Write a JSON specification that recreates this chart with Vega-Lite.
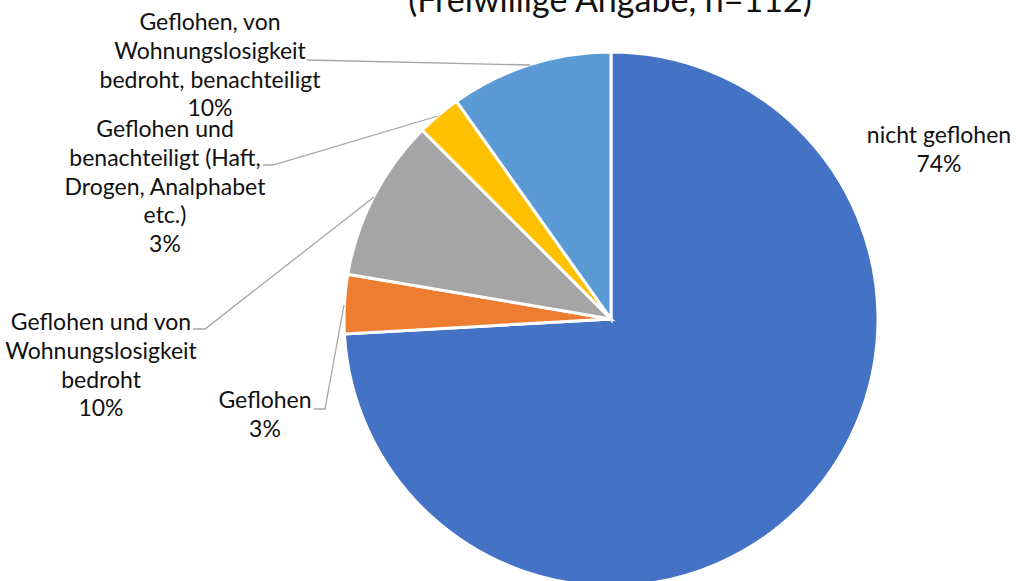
{
  "$schema": "https://vega.github.io/schema/vega-lite/v6.json",
  "width": 1016,
  "height": 581,
  "autosize": {"type": "none"},
  "padding": 0,
  "background": "white",
  "config": {"view": {"stroke": null}},
  "datasets": {
    "slices": [
      {"Kategorie": "nicht geflohen", "Anzahl": 83, "Reihenfolge": 1},
      {"Kategorie": "Geflohen", "Anzahl": 4, "Reihenfolge": 2},
      {"Kategorie": "Geflohen und von Wohnungslosigkeit bedroht", "Anzahl": 11, "Reihenfolge": 3},
      {"Kategorie": "Geflohen und benachteiligt (Haft, Drogen, Analphabet etc.)", "Anzahl": 3, "Reihenfolge": 4},
      {"Kategorie": "Geflohen, von Wohnungslosigkeit bedroht, benachteiligt", "Anzahl": 11, "Reihenfolge": 5}
    ],
    "labels": [
      {"Kategorie": "nicht geflohen", "Text": "nicht geflohen\n74%", "lx": 939, "ly": 143},
      {"Kategorie": "Geflohen", "Text": "Geflohen\n3%", "lx": 265, "ly": 408},
      {"Kategorie": "Geflohen und von Wohnungslosigkeit bedroht", "Text": "Geflohen und von\nWohnungslosigkeit\nbedroht\n10%", "lx": 101, "ly": 330},
      {"Kategorie": "Geflohen und benachteiligt (Haft, Drogen, Analphabet etc.)", "Text": "Geflohen und\nbenachteiligt (Haft,\nDrogen, Analphabet\netc.)\n3%", "lx": 165, "ly": 137},
      {"Kategorie": "Geflohen, von Wohnungslosigkeit bedroht, benachteiligt", "Text": "Geflohen, von\nWohnungslosigkeit\nbedroht, benachteiligt\n10%", "lx": 210, "ly": 30}
    ],
    "leaders": [
      {"Kategorie": "Geflohen", "Punkt": 1, "lx": 314, "ly": 409},
      {"Kategorie": "Geflohen", "Punkt": 2, "lx": 325, "ly": 409},
      {"Kategorie": "Geflohen", "Punkt": 3, "lx": 344, "ly": 305},
      {"Kategorie": "Geflohen und von Wohnungslosigkeit bedroht", "Punkt": 1, "lx": 193, "ly": 329},
      {"Kategorie": "Geflohen und von Wohnungslosigkeit bedroht", "Punkt": 2, "lx": 205, "ly": 329},
      {"Kategorie": "Geflohen und von Wohnungslosigkeit bedroht", "Punkt": 3, "lx": 374, "ly": 197},
      {"Kategorie": "Geflohen und benachteiligt (Haft, Drogen, Analphabet etc.)", "Punkt": 1, "lx": 263, "ly": 165},
      {"Kategorie": "Geflohen und benachteiligt (Haft, Drogen, Analphabet etc.)", "Punkt": 2, "lx": 273, "ly": 165},
      {"Kategorie": "Geflohen und benachteiligt (Haft, Drogen, Analphabet etc.)", "Punkt": 3, "lx": 438, "ly": 116},
      {"Kategorie": "Geflohen, von Wohnungslosigkeit bedroht, benachteiligt", "Punkt": 1, "lx": 307, "ly": 60},
      {"Kategorie": "Geflohen, von Wohnungslosigkeit bedroht, benachteiligt", "Punkt": 2, "lx": 530, "ly": 65}
    ],
    "title": [
      {"Text": "(Freiwillige Angabe, n=112)", "lx": 610, "ly": 12}
    ]
  },
  "layer": [
    {
      "data": {"name": "slices"},
      "mark": {"type": "arc", "outerRadius": 267, "stroke": "white", "strokeWidth": 3},
      "encoding": {
        "theta": {"field": "Anzahl", "type": "quantitative", "stack": true},
        "order": {"field": "Reihenfolge", "type": "quantitative"},
        "color": {
          "field": "Kategorie",
          "type": "nominal",
          "legend": null,
          "scale": {
            "domain": [
              "nicht geflohen",
              "Geflohen",
              "Geflohen und von Wohnungslosigkeit bedroht",
              "Geflohen und benachteiligt (Haft, Drogen, Analphabet etc.)",
              "Geflohen, von Wohnungslosigkeit bedroht, benachteiligt"
            ],
            "range": ["#4472C4", "#ED7D31", "#A5A5A5", "#FFC000", "#5B9BD5"]
          }
        },
        "x": {"datum": 611, "type": "quantitative", "scale": {"domain": [0, 1016], "nice": false, "zero": false}, "axis": null},
        "y": {"datum": 319, "type": "quantitative", "scale": {"domain": [0, 581], "nice": false, "zero": false, "reverse": true}, "axis": null}
      }
    },
    {
      "data": {"name": "leaders"},
      "mark": {"type": "line", "color": "#A6A6A6", "strokeWidth": 1.3},
      "encoding": {
        "x": {"field": "lx", "type": "quantitative"},
        "y": {"field": "ly", "type": "quantitative"},
        "detail": {"field": "Kategorie", "type": "nominal"},
        "order": {"field": "Punkt", "type": "quantitative"}
      }
    },
    {
      "data": {"name": "labels"},
      "mark": {"type": "text", "font": "Lato", "fontSize": 23, "lineHeight": 28.8, "lineBreak": "\n", "align": "center", "baseline": "alphabetic", "color": "#111111"},
      "encoding": {
        "x": {"field": "lx", "type": "quantitative"},
        "y": {"field": "ly", "type": "quantitative"},
        "text": {"field": "Text", "type": "nominal"}
      }
    },
    {
      "data": {"name": "title"},
      "mark": {"type": "text", "font": "Lato", "fontSize": 34, "align": "center", "baseline": "alphabetic", "color": "#111111"},
      "encoding": {
        "x": {"field": "lx", "type": "quantitative"},
        "y": {"field": "ly", "type": "quantitative"},
        "text": {"field": "Text", "type": "nominal"}
      }
    }
  ]
}
